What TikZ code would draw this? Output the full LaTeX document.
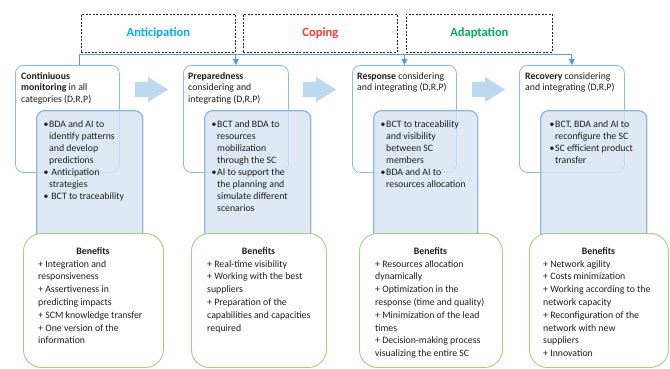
\documentclass[tikz,border=0pt]{standalone}
\usepackage{fontspec}
\setmainfont{Carlito}
\usetikzlibrary{arrows.meta}
\definecolor{lineblue}{RGB}{91,155,213}
\definecolor{boxborder}{RGB}{140,185,228}
\definecolor{bluefill}{RGB}{214,227,242}
\definecolor{greenborder}{RGB}{160,208,128}
\definecolor{arrowfill}{RGB}{189,215,238}
\definecolor{antcol}{RGB}{0,176,240}
\definecolor{copcol}{RGB}{255,55,45}
\definecolor{adacol}{RGB}{0,176,80}
\definecolor{txt}{RGB}{30,30,30}
\newcommand{\bu}{\hspace*{5pt}\llap{\textbullet\hspace{0.6pt}}}
\newcommand{\ind}{\hspace*{5pt}}
\begin{document}
\begin{tikzpicture}[x=1pt,y=-1pt,
  wbox/.style={draw=boxborder,line width=0.8pt,fill=white,rounded corners=8pt,anchor=north west,inner sep=0pt},
  bbox/.style={draw=boxborder,line width=1.3pt,fill=bluefill,fill opacity=0.8,rounded corners=8pt,anchor=north west,inner sep=0pt},
  gbox/.style={draw=greenborder,line width=0.9pt,fill=white,rounded corners=18pt,anchor=north west,inner sep=0pt},
  dbox/.style={draw=black!85,dash pattern=on 2pt off 1.5pt,line width=0.7pt,anchor=north west,inner sep=0pt},
  phase/.style={font={\fontsize{12.5}{14}\selectfont\bfseries}},
  ttext/.style={anchor=north west,inner sep=0pt,align=left,text=txt,font={\fontsize{9.8}{11.7}\selectfont}},
  btext/.style={anchor=north west,inner sep=0pt,align=left,text=txt,font={\fontsize{9.8}{12}\selectfont}},
  gtext/.style={anchor=north west,inner sep=0pt,align=left,text=txt,font={\fontsize{9.8}{12.8}\selectfont}},
  ghead/.style={anchor=base,inner sep=0pt,text=txt,font={\fontsize{9.8}{12.8}\selectfont\bfseries}},
  conn/.style={draw=lineblue,line width=0.9pt},
  blockarrow/.style={fill=arrowfill}
]
\useasboundingbox (0,0) rectangle (670,369);

% white boxes
\node[wbox,minimum width=104pt,minimum height=107pt] (w1) at (15,65) {};
\node[wbox,minimum width=105pt,minimum height=107pt] (w2) at (183,65) {};
\node[wbox,minimum width=104pt,minimum height=107pt] (w3) at (352,65) {};
\node[wbox,minimum width=105pt,minimum height=107pt] (w4) at (519,65) {};

% blue boxes
\node[bbox,minimum width=106pt,minimum height=130pt] (b1) at (36,110) {};
\node[bbox,minimum width=106pt,minimum height=130pt] (b2) at (204,110) {};
\node[bbox,minimum width=104pt,minimum height=130pt] (b3) at (373,110) {};
\node[bbox,minimum width=106pt,minimum height=130pt] (b4) at (540,110) {};

% green boxes
\node[gbox,minimum width=140pt,minimum height=134pt] (g1) at (23,233) {};
\node[gbox,minimum width=135pt,minimum height=134pt] (g2) at (191,233) {};
\node[gbox,minimum width=143pt,minimum height=134pt] (g3) at (359,233) {};
\node[gbox,minimum width=139pt,minimum height=134pt] (g4) at (529,233) {};

% title texts
\node[ttext] (t1) at (21,72) {\textbf{Continiuous}\\\textbf{monitoring} in all\\categories (D,R,P)};
\node[ttext] (t2) at (188,72) {\textbf{Preparedness}\\considering and\\integrating (D,R,P)};
\node[ttext] (t3) at (357,72) {\textbf{Response} considering\\and integrating (D,R,P)};
\node[ttext] (t4) at (525,72) {\textbf{Recovery} considering\\and integrating (D,R,P)};

% blue texts
\node[btext] (bt1) at (44,120) {\bu BDA and AI to\\\ind identify patterns\\\ind and develop\\\ind predictions\\\bu\ Anticipation\\\ind strategies\\\bu\ BCT to traceability};
\node[btext] (bt2) at (212,120) {\bu BCT and BDA to\\\ind resources\\\ind mobilization\\\ind through the SC\\\bu AI to support the\\\ind the planning and\\\ind simulate different\\\ind scenarios};
\node[btext] (bt3) at (381,120) {\bu BCT to traceability\\\ind and visibility\\\ind between SC\\\ind members\\\bu BDA and AI to\\\ind resources allocation};
\node[btext] (bt4) at (550,120) {\bu BCT, BDA and AI to\\\ind reconfigure the SC\\\bu SC efficient product\\\ind transfer};

% benefits headings
\node[ghead] (gh1) at (93,254.5) {Benefits};
\node[ghead] (gh2) at (258.5,254.5) {Benefits};
\node[ghead] (gh3) at (430.5,254.5) {Benefits};
\node[ghead] (gh4) at (598.5,254.5) {Benefits};

% benefits texts
\node[gtext] (gt1) at (38,260) {+ Integration and\\responsiveness\\+ Assertiveness in\\predicting impacts\\+ SCM knowledge transfer\\+ One version of the\\information};
\node[gtext] (gt2) at (207,260) {+ Real-time visibility\\+ Working with the best\\suppliers\\+ Preparation of the\\capabilities and capacities\\required};
\node[gtext] (gt3) at (375,260) {+ Resources allocation\\dynamically\\+ Optimization in the\\response (time and quality)\\+ Minimization of the lead\\times\\+ Decision-making process\\visualizing the entire SC};
\node[gtext] (gt4) at (543,260) {+ Network agility\\+ Costs minimization\\+ Working according to the\\network capacity\\+ Reconfiguration of the\\network with new\\suppliers\\+ Innovation};

% block arrows
\foreach \x in {135,303,472}{
  \fill[blockarrow] (\x,82) -- ++(13,0) -- ++(0,-5) -- ++(20,12.5) -- ++(-20,12.5) -- ++(0,-5) -- ++(-13,0) -- cycle;
}

% dashed phase boxes
\node[dbox,minimum width=154pt,minimum height=38pt] (ant) at (81,14) {};
\node[dbox,minimum width=154pt,minimum height=38pt] (cop) at (243,14) {};
\node[dbox,minimum width=146pt,minimum height=38pt] (ada) at (406,14) {};
\node[phase,text=antcol] (antl) at (ant.center) {Anticipation};
\node[phase,text=copcol] (copl) at (cop.center) {Coping};
\node[phase,text=adacol] (adal) at (ada.center) {Adaptation};

% connectors
\coordinate (busL) at (79,54.5);
\coordinate (busR) at (w4.north |- busL);
\draw[conn] (busL) -- (busR);
\draw[conn] (busL) -- (busL |- w1.north);
\draw[conn,-{Triangle[width=6pt,length=6pt]}] (w2.north |- busL) -- (w2.north);
\draw[conn,-{Triangle[width=6pt,length=6pt]}] (w3.north |- busL) -- (w3.north);
\draw[conn,-{Triangle[width=6pt,length=6pt]}] (busR) -- (w4.north);
\end{tikzpicture}
\end{document}
